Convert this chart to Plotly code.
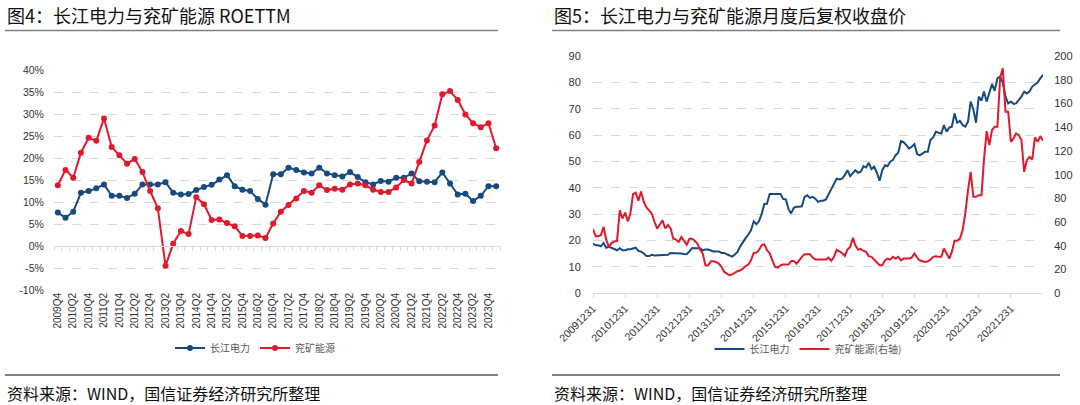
import plotly.graph_objects as go
import pandas as pd

# ---------------- data ----------------
quarters = ["2009Q4", "2010Q1", "2010Q2", "2010Q3", "2010Q4", "2011Q1", "2011Q2", "2011Q3", "2011Q4",
            "2012Q1", "2012Q2", "2012Q3", "2012Q4", "2013Q1", "2013Q2", "2013Q3", "2013Q4",
            "2014Q1", "2014Q2", "2014Q3", "2014Q4", "2015Q1", "2015Q2", "2015Q3", "2015Q4",
            "2016Q1", "2016Q2", "2016Q3", "2016Q4", "2017Q1", "2017Q2", "2017Q3", "2017Q4",
            "2018Q1", "2018Q2", "2018Q3", "2018Q4", "2019Q1", "2019Q2", "2019Q3", "2019Q4",
            "2020Q1", "2020Q2", "2020Q3", "2020Q4", "2021Q1", "2021Q2", "2021Q3", "2021Q4",
            "2022Q1", "2022Q2", "2022Q3", "2022Q4", "2023Q1", "2023Q2", "2023Q3", "2023Q4", "2024Q1"]

cj_roe = [7.6, 6.4, 7.8, 12.1, 12.5, 13.1, 14.0, 11.4, 11.4, 10.9,
          11.9, 14.0, 14.0, 14.0, 14.5, 12.1, 11.7, 11.8, 12.7, 13.4,
          13.9, 15.1, 16.1, 13.6, 12.8, 12.5, 10.7, 9.4, 16.3, 16.3,
          17.8, 17.3, 16.7, 16.5, 17.8, 16.5, 16.1, 15.8, 16.8, 15.7,
          14.5, 14.0, 14.8, 14.6, 15.5, 15.5, 16.5, 14.7, 14.6, 14.5,
          16.7, 14.2, 11.7, 11.9, 10.2, 11.4, 13.6, 13.6]

yk_roe = [13.8, 17.3, 15.5, 21.2, 24.6, 23.9, 29.0, 22.5, 20.6, 18.7,
          19.8, 16.8, 12.5, 8.6, -4.5, 0.5, 3.4, 2.7, 11.1, 9.5,
          5.9, 6.0, 5.2, 4.5, 2.3, 2.3, 2.4, 1.8, 5.1, 7.8,
          9.3, 10.8, 12.5, 12.1, 13.8, 12.7, 13.0, 12.8, 14.0, 14.2,
          13.8, 12.8, 12.3, 12.3, 13.3, 15.0, 14.2, 19.1, 24.0, 27.4,
          34.5, 35.2, 33.2, 29.9, 27.9, 27.0, 27.9, 22.2]

cj_price = [18.9, 18.2, 18.2, 17.8, 19.1, 17.3, 17.6, 17.3, 16.8, 16.3,
            17.1, 16.3, 16.3, 16.7, 16.7, 17.0, 17.3, 16.1, 15.8, 15.1,
            14.1, 14.1, 14.6, 14.3, 14.4, 14.4, 14.6, 14.6, 14.6, 15.3,
            15.3, 15.2, 15.1, 15.1, 14.9, 14.8, 15.9, 17.2, 17.1, 17.0,
            17.1, 16.3, 16.6, 16.6, 16.3, 15.9, 15.9, 15.9, 15.3, 15.3,
            14.8, 14.4, 13.9, 14.7, 15.7, 17.8, 19.6, 20.9, 22.3, 23.9,
            27.3, 26.2, 27.3, 30.0, 33.8, 34.0, 37.7, 37.7, 37.7, 37.7,
            37.7, 35.8, 35.6, 31.9, 30.3, 32.4, 32.8, 32.8, 33.0, 36.6,
            37.2, 36.2, 36.6, 35.9, 34.7, 35.1, 35.1, 35.6, 37.6, 40.0,
            41.9, 43.5, 43.2, 43.5, 44.8, 46.7, 44.4, 45.7, 46.7, 45.7,
            46.1, 48.2, 47.7, 49.5, 47.1, 48.0, 45.7, 42.7, 46.7, 48.6,
            48.2, 49.9, 50.5, 52.4, 53.3, 57.7, 57.3, 56.2, 54.9, 55.6,
            56.6, 52.8, 52.3, 53.0, 53.7, 53.7, 58.1, 59.1, 61.3, 60.9,
            60.6, 63.8, 61.3, 62.9, 63.2, 68.2, 64.7, 65.4, 63.8, 63.2,
            65.1, 72.7, 69.7, 64.7, 74.6, 73.0, 76.5, 72.7, 75.8, 79.4,
            76.8, 81.5, 82.2, 79.9, 74.6, 72.0, 72.7, 71.8, 72.0, 73.3,
            74.6, 76.5, 75.8, 76.5, 78.4, 79.2, 79.9, 81.5, 82.8]

yk_price = [54, 48, 48, 49, 56, 45, 39, 42.5, 43.6, 44,
            70, 63, 68, 60.5, 67, 83.5, 84.7, 78, 85.8, 77,
            72.3, 69.5, 67, 60, 54.6, 58.2, 61.6, 54.6, 57.7, 54.6,
            46, 45.3, 43.3, 47.5, 44.7, 41, 45.9, 46, 44.2, 42,
            36.8, 33.5, 23.6, 23.6, 27, 27, 26.2, 25, 22.2, 18,
            16.6, 15.2, 16, 17.7, 18.6, 19.4, 20.8, 23, 24.2, 27.8,
            34, 34.3, 36.3, 40.5, 41.4, 36.3, 34, 27.8, 22.2, 21.7,
            23.6, 24.2, 24.2, 24.2, 27.3, 27.3, 25, 28.4, 30.7, 32.9,
            32.9, 32.9, 30.1, 28.4, 28.4, 28.4, 28.4, 28.4, 30.1, 27.3,
            30.7, 36.8, 35.4, 34, 31.5, 36.8, 39.1, 46.7, 40.5, 36.8,
            37.4, 35.7, 34.9, 31.2, 30.7, 28.4, 26.4, 23.6, 23.6, 27.8,
            29.3, 28.4, 30.7, 29.3, 30.7, 27.8, 29.3, 29.3, 29.3, 30.1,
            33.5, 30.1, 27.8, 27, 26.4, 27, 28.4, 30.7, 31.2, 30.7,
            30.7, 37.7, 33.5, 29.3, 34.9, 44.2, 44.2, 46.1, 53.2, 67.2,
            87, 102.4, 81.3, 81.3, 82.7, 82.7, 112.2, 136.7, 124.9, 137.6,
            140.4, 140.4, 182, 189.6, 153, 153, 127.7, 130.5, 134.7, 133.3,
            129.1, 102.4, 112.2, 115, 112.8, 131.4, 127.7, 132.5, 128.6]

year_ticks = ["20091231", "20101231", "20111231", "20121231", "20131231", "20141231", "20151231",
              "20161231", "20171231", "20181231", "20191231", "20201231", "20211231", "20221231"]

left_yticks = [-10, -5, 0, 5, 10, 15, 20, 25, 30, 35, 40]

try:
    months = pd.date_range("2009-12-31", periods=len(cj_price), freq="ME")
except Exception:
    months = pd.date_range("2009-12-31", periods=len(cj_price), freq="M")

# ---------------- style ----------------
W, H = 1080, 405
BLUE = "#174B80"
RED = "#E2192C"
GRID = "#D9D9D9"
TXT = "#333333"
CJK = "Noto Sans CJK SC"
LAT = "Liberation Sans, Arial, sans-serif"


def px_x(x):
    return x / W


def px_y(y):
    return 1 - y / H


idx = list(range(len(quarters)))

fig = go.Figure()

fig.add_trace(go.Scatter(x=idx, y=cj_roe, mode="lines+markers", name="长江电力",
                         line=dict(color=BLUE, width=2), marker=dict(size=6, color=BLUE),
                         xaxis="x", yaxis="y", legend="legend"))
fig.add_trace(go.Scatter(x=idx, y=yk_roe, mode="lines+markers", name="兖矿能源",
                         line=dict(color=RED, width=2), marker=dict(size=6, color=RED),
                         xaxis="x", yaxis="y", legend="legend"))
fig.add_trace(go.Scatter(x=idx, y=cj_roe, mode="none", xaxis="x2", yaxis="y",
                         showlegend=False, hoverinfo="skip"))

fig.add_trace(go.Scatter(x=months, y=cj_price, mode="lines", name="长江电力",
                         line=dict(color=BLUE, width=2), xaxis="x3", yaxis="y3", legend="legend2"))
fig.add_trace(go.Scatter(x=months, y=yk_price, mode="lines", name="兖矿能源(右轴)",
                         line=dict(color=RED, width=2), xaxis="x3", yaxis="y4", legend="legend2"))

L_dom = [px_x(54), px_x(500)]
L_ydom = [px_y(290), px_y(70)]
R_dom = [px_x(593), px_x(1043)]
R_ydom = [px_y(293.3), px_y(56)]

zero_pos = L_ydom[0] + (L_ydom[1] - L_ydom[0]) * (0 - (-10)) / 50

fig.update_layout(
    width=W, height=H, autosize=False,
    margin=dict(l=0, r=0, t=0, b=0, pad=0, autoexpand=False),
    paper_bgcolor="white", plot_bgcolor="white",
    showlegend=True, hovermode=False,
    font=dict(family=LAT, color=TXT, size=10),
    xaxis=dict(domain=L_dom, range=[-0.5, len(quarters) - 0.5], anchor="y", automargin=False,
               tickmode="array", tickvals=idx[::2], ticktext=quarters[::2], tickangle=-90,
               showgrid=False, zeroline=False, showline=False, ticks="",
               tickfont=dict(size=10, color=TXT, family=LAT)),
    xaxis2=dict(domain=L_dom, overlaying="x", anchor="free", position=zero_pos, automargin=False,
                range=[-0.5, len(quarters) - 0.5],
                tickmode="array", tickvals=[i - 0.5 for i in range(len(quarters) + 1)],
                ticks="outside", ticklen=4, tickcolor=GRID, showline=True, linecolor=GRID,
                linewidth=1, showticklabels=False, showgrid=False, zeroline=False),
    yaxis=dict(domain=L_ydom, range=[-10, 40], anchor="x", automargin=False,
               tickmode="array", tickvals=left_yticks, ticktext=[f"{v}%" for v in left_yticks],
               showgrid=True, gridcolor=GRID, griddash="dash", gridwidth=1, zeroline=False,
               showline=False, ticks="outside", ticklen=7, tickcolor="rgba(0,0,0,0)",
               tickfont=dict(size=10.5, color=TXT, family=LAT)),
    xaxis3=dict(domain=R_dom, type="date", range=[months[0], months[-1]], anchor="y3", automargin=False,
                tickmode="array", tickvals=[pd.Timestamp(t) for t in year_ticks], ticktext=year_ticks,
                tickangle=-45, showgrid=False, zeroline=False, showline=True, linecolor=GRID,
                ticks="outside", ticklen=4, tickcolor=GRID,
                tickfont=dict(size=10.5, color=TXT, family=LAT)),
    yaxis3=dict(domain=R_ydom, range=[0, 90], dtick=10, anchor="x3", automargin=False,
                showgrid=True, gridcolor=GRID, griddash="dash", gridwidth=1, zeroline=False,
                showline=False, ticks="outside", ticklen=9, tickcolor="rgba(0,0,0,0)",
                tickfont=dict(size=11, color=TXT, family=LAT)),
    yaxis4=dict(range=[0, 200], dtick=20, overlaying="y3", side="right", anchor="x3", automargin=False,
                showgrid=False, zeroline=False, showline=False,
                ticks="outside", ticklen=8, tickcolor="rgba(0,0,0,0)",
                tickfont=dict(size=11, color=TXT, family=LAT)),
    legend=dict(orientation="h", x=px_x(255), xanchor="center", y=px_y(348), yanchor="middle",
                font=dict(size=10, color="#595959", family=CJK), bgcolor="rgba(0,0,0,0)",
                itemwidth=30),
    legend2=dict(orientation="h", x=px_x(808), xanchor="center", y=px_y(349), yanchor="middle",
                 font=dict(size=10, color="#595959", family=CJK), bgcolor="rgba(0,0,0,0)",
                 itemwidth=30),
)

annotations = [
    dict(text="图4：长江电力与兖矿能源 ROETTM", x=px_x(5), y=px_y(15), xanchor="left", yanchor="middle",
         font=dict(size=18, color="#111111", family=CJK)),
    dict(text="图5：长江电力与兖矿能源月度后复权收盘价", x=px_x(552), y=px_y(15), xanchor="left", yanchor="middle",
         font=dict(size=18, color="#111111", family=CJK)),
    dict(text="资料来源：WIND，国信证券经济研究所整理", x=px_x(5), y=px_y(393), xanchor="left", yanchor="middle",
         font=dict(size=16, color="#111111", family=CJK)),
    dict(text="资料来源：WIND，国信证券经济研究所整理", x=px_x(552), y=px_y(393), xanchor="left", yanchor="middle",
         font=dict(size=16, color="#111111", family=CJK)),
]
for a in annotations:
    a.update(xref="paper", yref="paper", showarrow=False)
fig.update_layout(annotations=annotations)

shapes = []
for x0, x1 in [(5, 498), (552, 1060)]:
    shapes.append(dict(type="line", xref="paper", yref="paper", x0=px_x(x0), x1=px_x(x1),
                       y0=px_y(30.5), y1=px_y(30.5), line=dict(color="#7F7F7F", width=1.5)))
    shapes.append(dict(type="line", xref="paper", yref="paper", x0=px_x(x0), x1=px_x(x1),
                       y0=px_y(375), y1=px_y(375), line=dict(color="#7F7F7F", width=2)))
fig.update_layout(shapes=shapes)

fig.write_html(
    "out.html",
    config={"displayModeBar": False, "staticPlot": True},
    post_script="document.body.style.margin='0';document.body.style.padding='0';"
                "document.body.style.overflow='hidden';",
)
